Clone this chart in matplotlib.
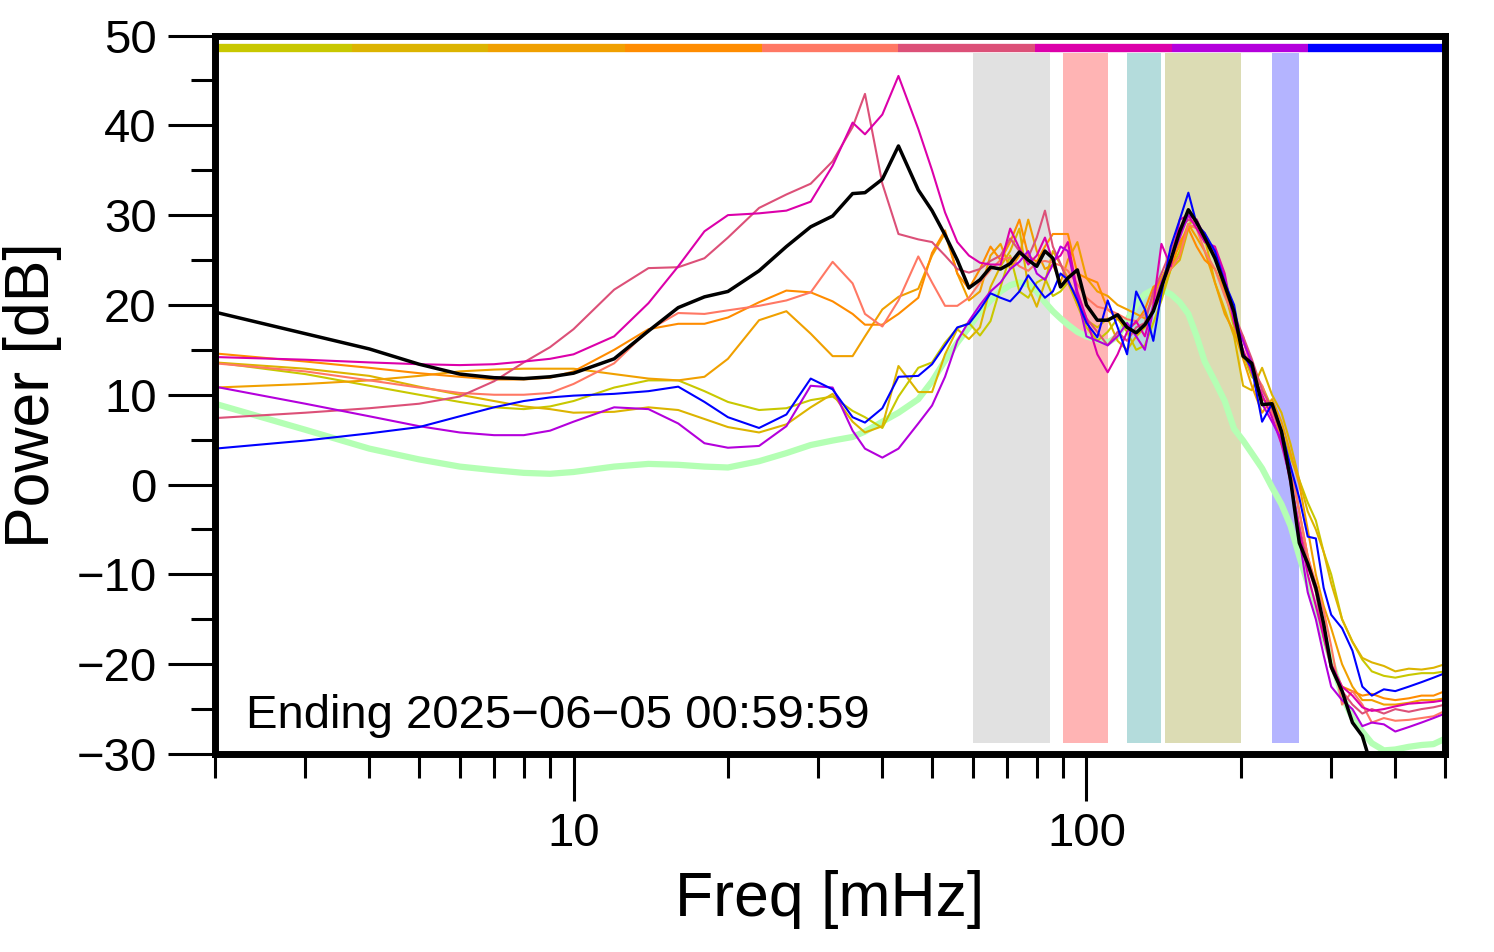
import numpy as np
import matplotlib.pyplot as plt
from matplotlib.ticker import FixedLocator, FixedFormatter, LogLocator, NullFormatter, MultipleLocator

plt.rcParams['font.family'] = ['Liberation Sans', 'DejaVu Sans']

# frequency grid [mHz]
freq = [2, 3, 4, 5, 6, 7, 8, 9, 10,
        12, 14, 16, 18, 20, 23, 26, 29, 32, 35, 37, 40, 43, 47, 50,
        53, 56, 59, 62, 65, 68, 71, 74, 77, 80, 83, 86, 89, 92, 96, 100,
        105, 110, 115, 120, 125, 130, 135, 140, 146, 152, 158, 164, 170, 178, 186, 194, 202,
        210, 220, 230, 240, 250, 260, 270, 280, 290, 300, 315, 330, 345, 360, 380, 400, 425, 450, 475, 500]

# power spectra [dB], one per segment (oldest -> newest)
p_yellow = [13.6, 12.3, 11.0, 10.0, 9.2, 8.6, 8.4, 8.7, 9.3,
            10.8, 11.6, 11.6, 10.4, 9.2, 8.3, 8.5, 9.4, 9.8, 8.2, 7.5, 6.3, 9.8, 13.0, 13.6,
            15.8, 17.4, 18.0, 16.6, 18.2, 22.0, 25.5, 21.5, 20.8, 22.5, 23.0, 21.0, 21.5, 22.5, 20.0, 17.5,
            16.0, 17.0, 18.5, 17.0, 15.0, 15.5, 18.0, 20.5, 24.0, 26.0, 29.0, 29.5, 27.0, 25.5, 21.5, 17.5, 14.5,
            12.0, 11.0, 8.5, 6.0, 3.0, 0.5, -2.0, -4.0, -7.5, -10.0, -15.0, -17.5, -19.5, -20.8, -21.3, -21.5, -21.2, -21.0, -21.0, -20.8]
p_gold = [13.6, 12.9, 12.1, 10.9, 10.0, 9.3, 8.7, 8.4, 8.0,
          8.1, 8.6, 8.3, 7.3, 6.4, 5.8, 6.7, 8.6, 10.1, 7.0, 5.8, 6.5, 13.2, 10.3, 10.3,
          14.5, 17.3, 16.2, 17.5, 22.0, 24.3, 26.0, 28.5, 22.0, 19.8, 22.5, 26.0, 24.5, 23.0, 20.0, 18.3,
          17.5, 18.5, 16.0, 15.0, 16.5, 17.5, 19.5, 21.0, 24.0, 25.0, 28.5, 29.0, 27.5, 22.5, 19.5, 16.5, 11.0,
          10.5, 13.0, 10.0, 8.0, 4.5, 0.5, -3.0, -5.0, -7.5, -11.0, -15.0, -17.5, -19.3, -19.8, -20.2, -20.8, -20.5, -20.6, -20.4, -20.0]
p_amber = [10.8, 11.2, 11.6, 12.1, 12.6, 12.8, 12.9, 12.9, 12.9,
           12.3, 11.8, 11.6, 12.0, 14.0, 18.3, 19.3, 16.8, 14.3, 14.3, 16.5, 19.5, 20.9, 21.8, 25.5,
           28.0, 23.5, 20.5, 21.5, 25.5, 26.8, 24.0, 25.5, 29.5, 26.0, 24.0, 24.5, 22.5, 25.0, 27.0, 23.0,
           21.5, 21.0, 20.0, 19.5, 19.0, 18.5, 21.0, 23.0, 25.0, 26.5, 29.0, 27.5, 26.0, 22.5, 19.0, 17.0, 14.0,
           11.0, 8.0, 9.5, 7.0, 3.5, 0.0, -5.0, -10.0, -13.5, -16.0, -20.0, -22.5, -24.0, -24.0, -24.5, -24.5, -24.3, -24.0, -24.0, -23.8]
p_orange = [14.6, 13.7, 13.0, 12.4, 12.0, 11.7, 11.7, 11.9, 12.6,
            15.0, 17.3, 17.9, 17.9, 18.6, 20.3, 21.6, 21.4, 20.4, 19.0, 17.8, 17.8, 19.0, 20.8, 25.8,
            28.3, 23.5, 21.8, 24.0, 26.5, 25.0, 27.0, 29.5, 25.5, 24.8, 26.5, 27.9, 27.9, 27.9, 23.5, 23.0,
            22.5, 19.5, 18.5, 17.5, 18.0, 19.5, 22.0, 22.7, 24.0, 27.0, 28.5, 26.5, 25.0, 24.0, 21.5, 18.0, 16.5,
            13.0, 9.5, 9.0, 4.5, 2.0, -3.0, -8.0, -11.5, -16.0, -20.0, -22.5, -23.0, -23.5, -23.3, -23.8, -24.0, -23.8, -23.5, -23.5, -23.0]
p_salmon = [13.5, 12.6, 11.6, 10.8, 10.2, 10.0, 10.0, 10.2, 11.2,
            13.5, 17.2, 19.1, 19.0, 19.4, 19.9, 20.5, 21.4, 24.8, 22.4, 19.0, 17.6, 20.5, 25.4, 22.5,
            19.9, 19.9, 20.8, 22.5, 23.9, 25.0, 25.3, 24.3, 23.8, 24.7, 24.9, 24.7, 24.4, 23.8, 22.3, 20.8,
            19.8, 19.5, 19.0, 18.4, 18.2, 19.0, 20.5, 22.5, 24.0, 25.5, 29.0, 28.5, 26.0, 24.0, 21.0, 18.5, 16.0,
            13.0, 11.0, 8.0, 6.0, 2.0, -3.0, -8.0, -11.0, -14.0, -18.0, -24.5, -23.0, -24.5, -26.5, -26.0, -26.3, -26.2, -26.0, -25.8, -25.2]
p_rose = [7.4, 8.0, 8.5, 9.0, 9.8, 11.5, 13.6, 15.3, 17.3,
          21.7, 24.1, 24.2, 25.2, 27.5, 30.8, 32.3, 33.5, 36.0, 39.8, 43.5, 33.5, 27.9, 27.3, 27.0,
          25.5, 24.0, 23.6, 24.0, 24.9, 25.5, 27.4, 26.0, 25.3, 27.5, 30.5, 26.5, 24.6, 22.5, 21.0, 18.5,
          17.0, 15.5, 17.0, 16.0, 17.5, 18.0, 21.5, 23.5, 26.0, 28.5, 29.5, 29.0, 28.0, 25.5, 22.5, 19.0, 16.5,
          14.0, 10.5, 8.5, 5.5, 0.0, -4.5, -9.0, -12.0, -17.0, -20.5, -23.0, -24.5, -25.5, -25.0, -25.5, -25.0, -25.3, -25.0, -24.8, -24.5]
p_magenta = [14.2, 13.9, 13.6, 13.4, 13.3, 13.4, 13.7, 14.0, 14.5,
             16.5, 20.2, 24.3, 28.2, 30.0, 30.2, 30.5, 31.5, 35.5, 40.3, 39.0, 41.2, 45.5, 39.6, 35.0,
             30.3, 27.0, 25.5, 24.7, 24.5, 24.5, 28.5, 26.3, 24.5, 25.5, 27.5, 24.9, 25.5, 27.0, 21.5, 18.5,
             14.5, 12.5, 14.5, 17.0, 18.2, 16.5, 20.0, 26.8, 24.3, 29.5, 30.0, 28.5, 27.0, 26.5, 23.5, 18.0, 15.0,
             12.5, 10.0, 7.5, 4.5, 0.5, -5.0, -10.0, -13.5, -17.0, -20.0, -22.5, -23.5, -24.8, -25.2, -25.0, -24.7, -24.4, -24.3, -24.2, -24.0]
p_purple = [10.9, 9.0, 7.6, 6.5, 5.8, 5.5, 5.5, 6.0, 7.0,
            8.6, 8.4, 6.8, 4.6, 4.1, 4.3, 6.5, 11.0, 10.8, 6.0, 4.0, 3.0, 4.0, 6.8, 8.8,
            12.0, 16.0, 18.2, 20.0, 21.5, 22.5, 24.0, 24.8, 26.0, 23.5, 22.8, 24.5, 26.5, 26.0, 21.0, 16.5,
            16.0, 15.5, 16.5, 18.0, 16.5, 15.0, 19.5, 22.5, 25.0, 27.5, 30.0, 29.5, 27.5, 26.0, 23.0, 18.5, 16.0,
            13.5, 9.0, 7.0, 5.0, 0.5, -6.0, -12.0, -15.0, -19.0, -22.5, -24.0, -25.0, -26.9, -26.5, -26.7, -27.5, -27.0, -26.5, -26.0, -25.5]
p_blue = [4.0, 4.9, 5.7, 6.4, 7.6, 8.6, 9.3, 9.7, 9.9,
          10.1, 10.4, 10.9, 9.2, 7.5, 6.3, 7.8, 11.8, 10.6, 7.5, 6.9, 8.5, 12.0, 12.1, 13.4,
          15.5, 17.5, 17.9, 19.5, 21.3, 20.8, 20.4, 21.5, 23.3, 22.0, 20.8, 21.5, 23.5, 22.8, 20.5, 18.0,
          16.4, 20.5, 17.5, 14.5, 21.5, 19.5, 16.0, 21.3, 26.5, 29.5, 32.5, 29.0, 28.0, 26.0, 22.5, 20.0, 14.5,
          13.0, 7.0, 9.0, 6.0, 2.0, -1.5, -5.8, -6.0, -11.5, -14.5, -16.0, -18.5, -22.5, -23.5, -22.8, -23.0, -22.5, -22.0, -21.5, -21.0]
p_mean = [19.2, 16.8, 15.1, 13.4, 12.3, 11.9, 11.8, 12.0, 12.4,
          14.0, 17.1, 19.7, 20.9, 21.5, 23.8, 26.5, 28.7, 29.9, 32.4, 32.5, 34.0, 37.7, 32.8, 30.5,
          27.8, 25.0, 21.9, 22.8, 24.2, 24.0, 24.6, 25.9, 25.0, 24.3, 26.0, 25.2, 22.0, 23.0, 23.9, 20.0,
          18.3, 18.3, 18.9, 17.5, 16.9, 17.8, 19.3, 22.0, 25.0, 28.2, 30.6, 29.2, 27.5, 25.2, 22.2, 19.2, 14.3,
          13.5, 8.9, 9.0, 5.9, 0.5, -6.5, -8.8, -11.5, -15.5, -20.3, -23.0, -26.5, -28.0, -31.5, np.nan, np.nan, np.nan, np.nan, np.nan, np.nan]
p_ref = [9.0, 6.1, 4.0, 2.8, 2.0, 1.6, 1.3, 1.2, 1.4,
         2.0, 2.3, 2.2, 2.0, 1.9, 2.6, 3.5, 4.4, 4.9, 5.3, 5.9, 7.0, 8.0, 9.5, 11.5,
         13.8, 15.8, 17.5, 19.2, 20.5, 21.5, 22.2, 22.5, 22.3, 21.5, 20.3, 19.3, 18.5, 17.8, 17.0, 16.5,
         16.1, 15.8, 16.5, 18.3, 20.0, 21.2, 21.7, 21.7, 21.2, 20.3, 19.0, 16.5, 13.7, 11.5, 9.3, 6.2, 4.9,
         3.5, 1.8, -0.3, -2.2, -4.6, -8.0, -11.0, -14.0, -17.0, -19.5, -23.5, -26.0, -27.5, -28.8, -29.6, -29.5, -29.2, -29.0, -28.9, -28.3]

segments = [p_yellow, p_gold, p_amber, p_orange, p_salmon, p_rose, p_magenta, p_purple, p_blue]
seg_colors = ['#c8c800', '#dcb400', '#f0a000', '#ff8c00', '#ff7864',
              '#dc5078', '#dc00aa', '#b400dc', '#0000ff']

# shaded frequency bands [mHz]
band_lo = [60, 90, 120, 142, 230]
band_hi = [85, 110, 140, 200, 260]
band_colors = ['#e1e1e1', '#ffb4b4', '#b4dcdc', '#dcdcb4', '#b4b4ff']

fig = plt.figure(figsize=(14.94, 9.52), dpi=100)
ax = fig.add_axes([0.1439, 0.208, 0.8233, 0.7547])

for lo, hi, c in zip(band_lo, band_hi, band_colors):
    ax.axvspan(lo, hi, ymin=0.015, ymax=0.976, color=c, lw=0, zorder=0.5)

ax.plot(freq, p_ref, color='#b4ffb4', lw=4.5, zorder=1)
for vals, c in zip(segments, seg_colors):
    ax.plot(freq, vals, color=c, lw=1.5, zorder=1.5)
ax.plot(freq, p_mean, color='black', lw=2.5, zorder=1.8)

# colour key strip along the top
for i, c in enumerate(seg_colors):
    ax.axhline(48.6, xmin=i / 9, xmax=(i + 1) / 9, color=c, lw=6,
               solid_capstyle='butt', zorder=1.9)

ax.set_xscale('log')
ax.set_xlim(2, 500)
ax.set_ylim(-30, 50)
ax.xaxis.set_major_locator(FixedLocator([10, 100]))
ax.xaxis.set_major_formatter(FixedFormatter(['10', '100']))
ax.xaxis.set_minor_locator(LogLocator(base=10, subs=range(2, 10)))
ax.xaxis.set_minor_formatter(NullFormatter())
ax.yaxis.set_major_locator(MultipleLocator(10))
ax.yaxis.set_minor_locator(MultipleLocator(5))

for s in ax.spines.values():
    s.set_linewidth(5)
ax.tick_params(which='major', length=34, width=2.2, labelsize=34, pad=8, direction='out')
ax.tick_params(which='minor', length=17, width=2.2, direction='out')

ax.set_xlabel('Freq [mHz]', fontsize=45, labelpad=10)
ax.set_ylabel('Power [dB]', fontsize=45, labelpad=10)

ax.text(0.025, 0.036, 'Ending 2025\u221206\u221205 00:59:59', transform=ax.transAxes,
        fontsize=34, va='baseline')

fig.savefig('out.png', dpi=100)
